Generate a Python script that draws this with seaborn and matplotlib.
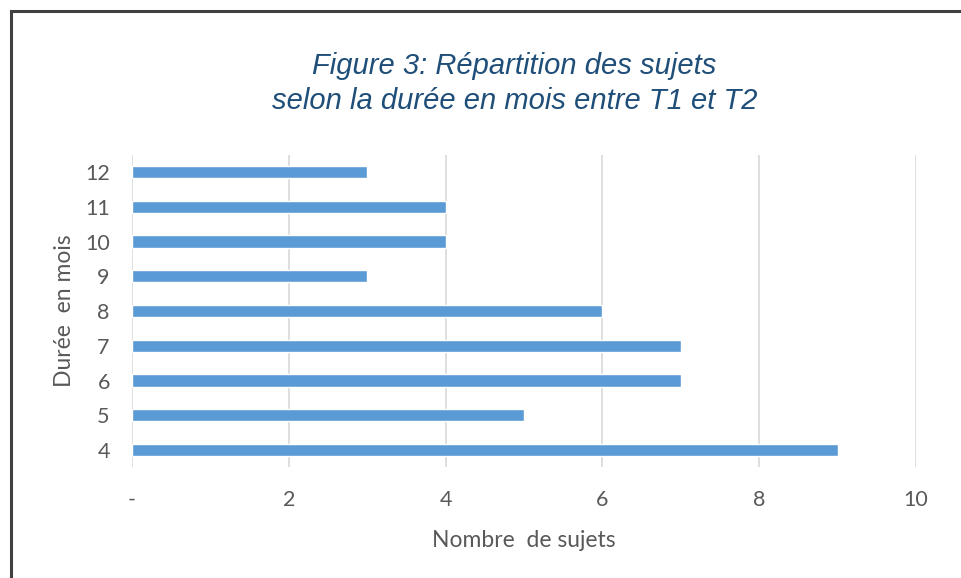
import pandas as pd
import seaborn as sns
import matplotlib.pyplot as plt
from matplotlib.patches import Rectangle

# data
durees = ['12', '11', '10', '9', '8', '7', '6', '5', '4']
nb_sujets = [3, 4, 4, 3, 6, 7, 7, 5, 9]
x_ticks = [0, 2, 4, 6, 8, 10]
x_labels = ['-', '2', '4', '6', '8', '10']

df = pd.DataFrame({'Durée': durees, 'Nombre': nb_sujets})

sns.set_theme(style='white')
plt.rcParams['font.family'] = ['Lato', 'DejaVu Sans']

fig = plt.figure(figsize=(9.62, 5.78), dpi=100)
ax = fig.add_axes([0.1372, 0.1913, 0.815, 0.5412])

sns.barplot(data=df, x='Nombre', y='Durée', order=durees, orient='h',
            color='#5b9bd5', saturation=1, width=0.35, ax=ax, zorder=3)

ax.set_xlim(0, 10)
ax.set_ylim(8.5, -0.5)
ax.set_xticks(x_ticks)
ax.set_xticklabels(x_labels)
ax.grid(axis='x', color='#d9d9d9', linewidth=1.2, zorder=0)
ax.grid(axis='y', visible=False)
for s in ax.spines.values():
    s.set_visible(False)
ax.tick_params(axis='both', length=0, labelsize=15.5, colors='#595959')
ax.tick_params(axis='y', pad=16)
ax.tick_params(axis='x', pad=16)

ax.set_xlabel('Nombre  de sujets', fontsize=16.5, color='#595959', labelpad=15)
ax.set_ylabel('Durée  en mois', fontsize=16.5, color='#595959', labelpad=7)

fig.text(0.535, 0.856, 'Figure 3: Répartition des sujets\nselon la durée en mois entre T1 et T2',
         ha='center', va='center', fontsize=21, style='italic',
         family=['Liberation Sans', 'DejaVu Sans'], color='#1f4e79', linespacing=1.3)

# frame around the figure
fig.patches.append(Rectangle((11 / 962, -0.1), 1.2, 1 - 11 / 578 + 0.1,
                             transform=fig.transFigure, fill=False,
                             edgecolor='#404040', linewidth=2.2, clip_on=False))

fig.savefig('out.png', dpi=100)
